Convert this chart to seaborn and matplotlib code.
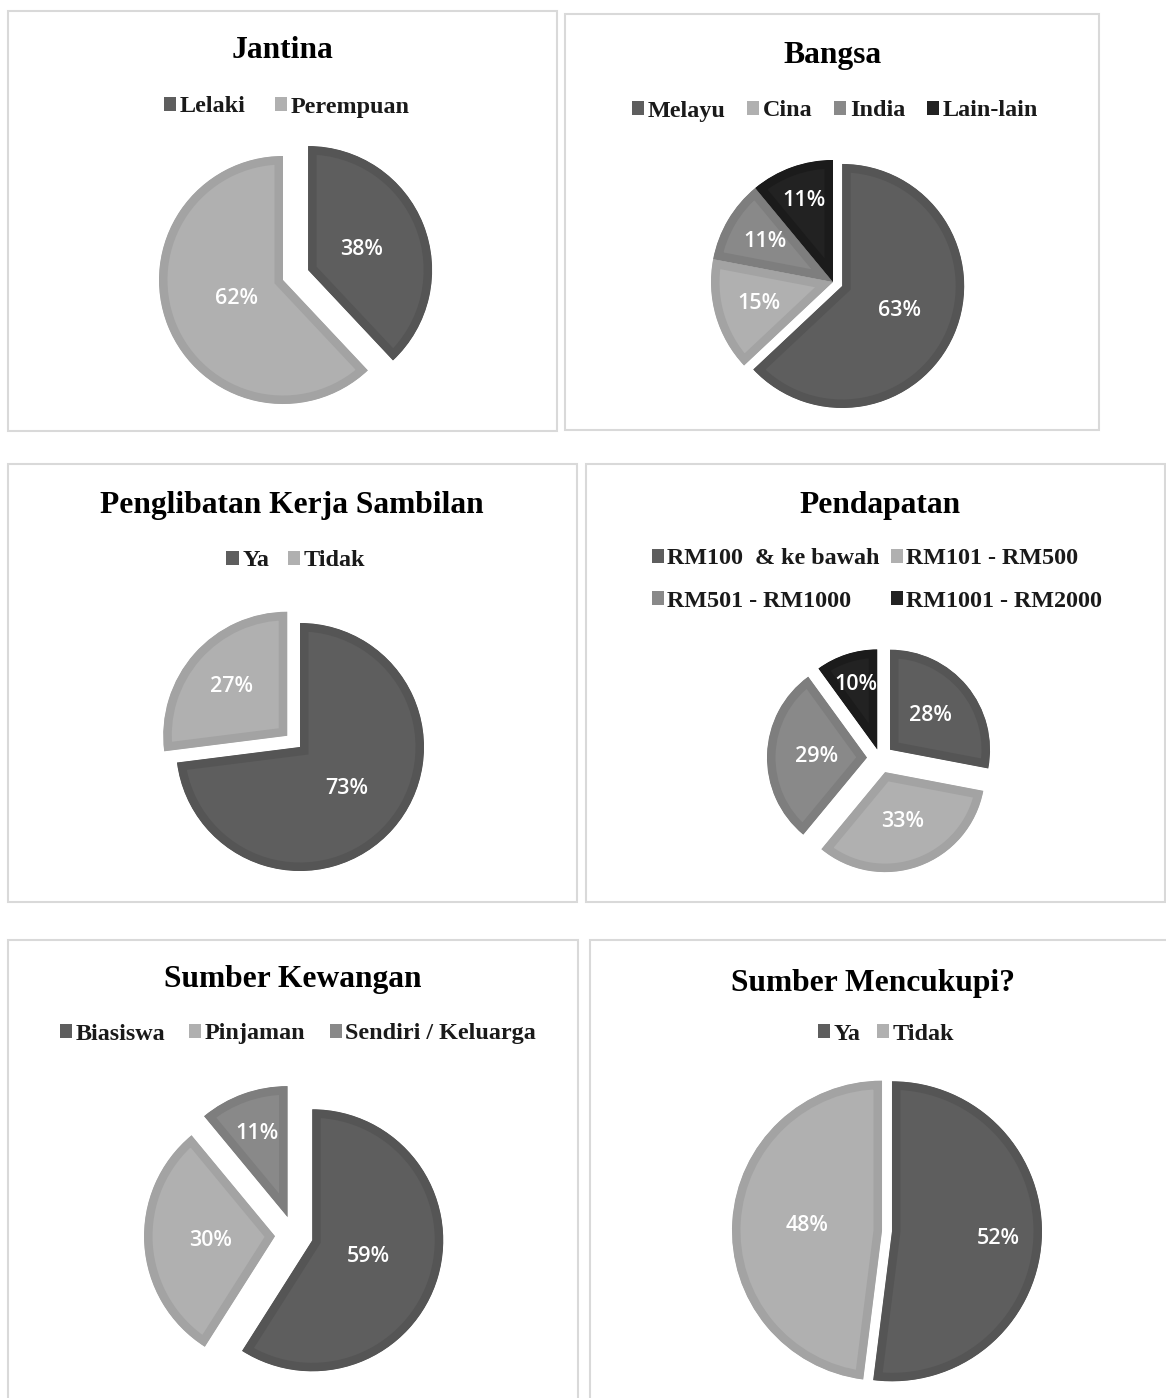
import numpy as np
import matplotlib
matplotlib.use("Agg")
import matplotlib.pyplot as plt
from matplotlib.patches import Patch, Rectangle
import seaborn as sns

# ---------------- data ----------------
jantina_labels = ["Lelaki", "Perempuan"]
jantina_values = [38, 62]

bangsa_labels = ["Melayu", "Cina", "India", "Lain-lain"]
bangsa_values = [63, 15, 11, 11]

kerja_labels = ["Ya", "Tidak"]
kerja_values = [73, 27]

pendapatan_labels = ["RM100  & ke bawah", "RM101 - RM500", "RM501 - RM1000", "RM1001 - RM2000"]
pendapatan_values = [28, 33, 29, 10]

kewangan_labels = ["Biasiswa", "Pinjaman", "Sendiri / Keluarga"]
kewangan_values = [59, 30, 11]

cukup_labels = ["Ya", "Tidak"]
cukup_values = [52, 48]

# ---------------- style ----------------
sns.set_theme(style="white")
SERIF = ["Liberation Serif", "DejaVu Serif"]
SANS = ["Open Sans", "Lato", "DejaVu Sans"]
plt.rcParams["font.family"] = SERIF

DARK, LIGHT, MID, BLACK = "#5e5e5e", "#b0b0b0", "#898989", "#222222"
EDGE = {DARK: "#555555", LIGHT: "#a3a3a3", MID: "#7e7e7e", BLACK: "#1b1b1b"}
pal2 = sns.color_palette([DARK, LIGHT])
pal3 = sns.color_palette([DARK, LIGHT, MID])
pal4 = sns.color_palette([DARK, LIGHT, MID, BLACK])

FW, FH = 1166, 1398
fig = plt.figure(figsize=(FW / 100, FH / 100), dpi=100, facecolor="white")

BAND_PX = 8.5  # inner border band width


def panel(box, title, title_xy, labels, values, colors, center, R, explode_px,
          label_dist, legend_xy, ncol, colspacing, order=None):
    x0, y0, x1, y1 = box
    fig.add_artist(Rectangle((x0 / FW, 1 - y1 / FH), (x1 - x0) / FW, (y1 - y0) / FH,
                             transform=fig.transFigure, fill=False,
                             edgecolor="#d9d9d9", linewidth=1.5))
    fig.text(title_xy[0] / FW, 1 - title_xy[1] / FH, title, ha="center", va="center",
             fontsize=22.7, fontweight="bold", color="black", family=SERIF)

    half = 200
    cx, cy = center
    ax = fig.add_axes([(cx - half) / FW, 1 - (cy + half) / FH, 2 * half / FW, 2 * half / FH])
    ax.set_facecolor("none")
    r = float(R)
    hex_colors = [matplotlib.colors.to_hex(c) for c in colors]
    wedges, _, autotexts = ax.pie(
        values, colors=hex_colors, startangle=90, counterclock=False,
        explode=[e / r for e in explode_px], autopct="%1.0f%%", pctdistance=0.5,
        radius=1, wedgeprops=dict(linewidth=2 * BAND_PX * 0.72, joinstyle="miter"),
        textprops=dict(color="white", fontsize=15.5, family=SANS, fontweight="semibold"))
    for w, c, t, d in zip(wedges, hex_colors, autotexts, label_dist):
        w.set_edgecolor(EDGE[c])
        w.set_clip_on(True)
        w.set_clip_path(w)  # keep the border band inside the slice
        mid = np.deg2rad((w.theta1 + w.theta2) / 2)
        wx, wy = w.center
        t.set_position((wx + d * w.r * np.cos(mid), wy + d * w.r * np.sin(mid)))
    s = half / r
    ax.set_xlim(-s, s)
    ax.set_ylim(-s, s)
    ax.set_aspect("equal")
    ax.axis("off")

    handles = [Patch(facecolor=c, edgecolor="none") for c in hex_colors]
    labs = list(labels)
    if order is not None:
        handles = [handles[i] for i in order]
        labs = [labs[i] for i in order]
    fig.legend(handles, labs, loc="center",
               bbox_to_anchor=(legend_xy[0] / FW, 1 - legend_xy[1] / FH),
               ncol=ncol, frameon=False,
               prop=dict(family=SERIF, weight="bold", size=17.4),
               labelcolor="#1a1a1a", handlelength=0.5, handleheight=0.5,
               handletextpad=0.15, columnspacing=colspacing, labelspacing=0.88,
               borderpad=0, borderaxespad=0)


panel((8, 11, 557, 431), "Jantina", (282, 50), jantina_labels, jantina_values, pal2,
      (283, 280), 124, [27, 0], [0.46, 0.40], (287, 107), 2, 1.2)

panel((565, 14, 1099, 430), "Bangsa", (833, 56), bangsa_labels, bangsa_values, pal4,
      (833, 282), 122, [10, 0, 0, 0], [0.51, 0.63, 0.65, 0.71], (835, 111), 4, 0.9)

panel((8, 464, 577, 902), "Penglibatan Kerja Sambilan", (292, 506), kerja_labels, kerja_values, pal2,
      (300, 747), 124, [0, 17], [0.50, 0.60], (296, 561), 2, 0.8)

panel((586, 464, 1165, 902), "Pendapatan", (880, 506), pendapatan_labels, pendapatan_values, pal4,
      (880, 758), 100, [13, 15, 13, 9], [0.53, 0.52, 0.50, 0.68], (877, 580), 2, 0.45,
      order=[0, 2, 1, 3])

panel((8, 940, 578, 1420), "Sumber Kewangan", (293, 980), kewangan_labels, kewangan_values, pal3,
      (294, 1235), 131, [19, 19, 19], [0.45, 0.49, 0.68], (298, 1034), 3, 1.0)

panel((590, 940, 1190, 1420), "Sumber Mencukupi?", (873, 984), cukup_labels, cukup_values, pal2,
      (887, 1231), 150, [5, 5], [0.71, 0.50], (886, 1034), 2, 0.7)

fig.savefig("out.png", dpi=100, facecolor="white")
